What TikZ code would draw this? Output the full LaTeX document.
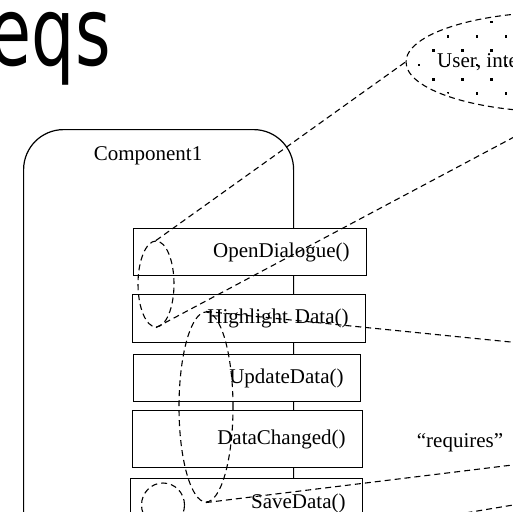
\documentclass[tikz,border=0pt]{standalone}
\usepackage{graphicx}
\usepackage{fontspec}
\setmainfont{Liberation Serif}
\newfontfamily\titlefont{DejaVu Sans}
\usepackage{tikz}
\usetikzlibrary{shapes.geometric}

\tikzset{
  method/.style={draw, fill=white, line width=1.2pt, anchor=north west,
    inner xsep=17pt, inner ysep=0pt, align=right, text width=#1},
  zoomring/.style={draw, ellipse, dash pattern=on 6pt off 4pt, line width=1.1pt, inner sep=0pt},
  zoomline/.style={dash pattern=on 6pt off 4pt, line width=1.1pt},
}

\begin{document}
\begin{tikzpicture}[x=1pt, y=-1pt, font=\fontsize{21}{25}\selectfont]
    \useasboundingbox (0,0) rectangle (513,511);
    \clip (0,0) rectangle (513,511);

    \node[anchor=base east, inner sep=0pt] (title) at (111,65)
      {\titlefont\fontsize{95}{100}\selectfont\scalebox{0.72}[1]{eqs}};

    \begin{scope}
      \node[zoomring, minimum width=308pt, minimum height=100pt] (user) at (560,62) {};
      \clip (user.center) ellipse [x radius=151pt, y radius=47pt];
      \foreach \k in {0,...,6} {
        \foreach \j in {0,...,7} {
          \fill ({419+14.5*mod(\k+1,2)+29*\j},{22+14.33*\k}) +(-1.4,-1.4) rectangle +(1.4,1.4);
        }
      }
    \end{scope}
    \node[anchor=base west, inner sep=0pt] (usertext) at (437,67) {User, inte};

    \node[draw, line width=1.2pt, rounded corners=40pt, anchor=north west,
      minimum width=270pt, minimum height=431pt] (comp) at (23,129) {};
    \node[anchor=base] (compname) at (148,160) {Component1};

    \node[method=199pt, minimum height=47pt] (open) at (133,228) {OpenDialogue()};
    \node[method=199pt, minimum height=48pt] (highlight) at (132,294) {Highlight Data()};
    \node[method=193pt, minimum height=47pt] (update) at (133,354) {UpdateData()};
    \node[method=196pt, minimum height=57pt] (changed) at (132,410) {DataChanged()};
    \node[method=198pt, minimum height=50pt] (save) at (130,478) {SaveData()};

    \node[anchor=base] (requires) at (460,447) {“requires”};

    \node[zoomring, minimum width=36pt, minimum height=86pt] (ringA) at (156,284) {};
    \node[zoomring, minimum width=54pt, minimum height=190pt] (ringB) at (206,407) {};
    \node[zoomring, minimum width=43pt, minimum height=44pt] (ringC) at (163,505) {};

    \coordinate (fartop) at (700,361);
    \coordinate (farbottom) at (700,442);
    \coordinate (lowstart) at (200,557);
    \coordinate (lowend) at (700,474);

    \draw[zoomline] (ringA.north) -- (user.west);
    \draw[zoomline] (ringA.south) -- (user.south);
    \draw[zoomline] (ringB.north) -- (fartop);
    \draw[zoomline] (ringB.south) -- (farbottom);
    \draw[zoomline] (lowstart) -- (lowend);
\end{tikzpicture}
\end{document}
